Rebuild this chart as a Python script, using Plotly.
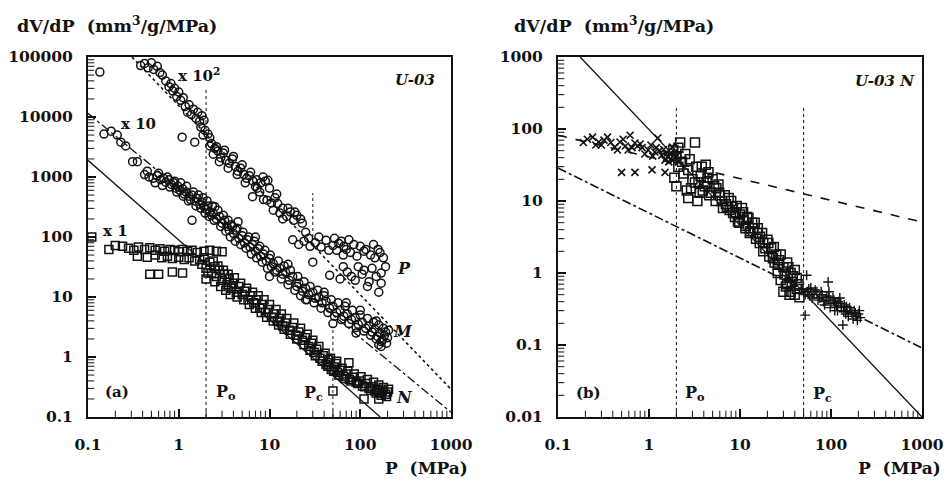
import plotly.graph_objects as go

# ---------------- Panel (a): U-03 ----------------
# P series (x 10^2), open circles
a_P_p = [0.135, 0.38, 0.42, 0.46, 0.50, 0.53, 0.58, 0.62, 0.66, 0.72, 0.78, 0.82, 0.86, 0.90, 0.95, 1.0, 1.05, 1.12,
         1.18, 1.25, 1.30, 1.38, 1.45, 1.55, 1.62, 1.70, 1.80, 1.90, 1.75, 1.95, 2.1, 2.2, 1.85, 1.09, 1.50,
         2.3, 2.5, 2.4, 2.7, 2.9, 3.1, 3.3, 3.6, 3.9, 4.2, 4.5, 4.8, 5.2, 5.6, 6.0, 6.6, 7.2, 8.0, 9.0, 9.6,
         6.5, 7.3, 7.8, 8.6, 9.4, 10.5, 11, 12.3, 13, 14, 15.5, 17, 18.5, 20, 22, 23,
         18, 21, 24, 28, 32, 37, 42, 50, 58, 66, 75, 30,
         55, 65, 78, 92, 110, 130, 157, 145, 46, 60, 72, 88, 105, 125, 150, 170, 120, 160,
         2.2, 2.6, 2.8, 3.2, 3.5, 4.0, 4.4, 5.0, 5.4, 6.2, 7.0, 8.5, 10, 11.5, 12, 14, 16, 19, 25, 27,
         35, 45, 52, 62, 70, 85, 100, 115, 140, 165, 180, 190, 95, 110, 135, 80, 65, 170]
a_P_v = [56000, 72000, 78000, 66000, 80000, 62000, 70000, 55000, 50000, 40000, 32000, 36000, 27000, 30000, 22000, 26000, 19000, 21000,
         15000, 12000, 16000, 11000, 13500, 9500, 12000, 8500, 10500, 8800, 6800, 6000, 5200, 4500, 5000, 4600, 3800,
         3600, 3000, 2400, 2700, 2100, 2500, 1900, 1700, 2000, 1500, 1250, 1400, 1100, 950, 1050, 850, 900, 800, 850, 880,
         470, 650, 560, 420, 410, 370, 280, 360, 250, 300, 220, 260, 190, 230, 200, 170,
         90, 75, 85, 70, 80, 68, 88, 72, 78, 70, 90, 38,
         60, 50, 55, 48, 58, 50, 62, 45, 23, 20, 26, 19, 24, 18, 22, 17, 15, 12,
         3300, 3200, 1800, 2800, 1400, 2200, 1100, 1600, 800, 1200, 700, 1000, 650, 450, 520, 200, 300, 260, 120, 95,
         100, 60, 95, 85, 62, 75, 70, 62, 75, 55, 45, 32, 32, 28, 30, 22, 32, 25]

# M series (x 10), open circles
a_M_p = [0.15, 0.18, 0.21, 0.23, 0.26, 0.31, 0.35, 0.42, 0.47, 0.52, 0.58, 0.63, 0.68, 0.72, 0.78, 0.83, 0.88, 0.93, 0.98,
         1.03, 1.1, 1.15, 1.2, 1.3, 1.35, 1.4, 1.5, 1.6, 1.7, 1.8, 1.9, 2.0, 2.1, 2.2, 2.3, 1.4,
         2.4, 2.6, 2.8, 3.0, 3.2, 3.4, 3.6, 3.8, 4.0, 4.3, 4.6, 5.0, 5.3, 5.7, 6.1, 6.5, 7.0, 7.5, 8.0, 8.6, 9.2, 10,
         10.5, 11, 12, 13, 14, 15, 16.5, 18, 20, 21, 23, 25, 27, 30, 32, 35, 38, 42, 46, 50, 55, 60, 66, 72, 80, 88,
         95, 105, 115, 125, 135, 145, 155, 165, 175, 185, 195,
         2.5, 4.5, 7, 10, 16, 25, 40, 50, 70, 100, 150, 170, 90,
         0.45, 0.55, 0.6, 0.66, 0.75, 0.8, 0.9, 0.95, 1.05, 1.12, 1.22, 1.28, 1.45, 1.55, 1.65, 1.75, 1.85, 1.95,
         2.05, 2.15, 2.35, 2.45, 2.7, 2.9, 3.1, 3.3, 3.5, 3.7, 3.9, 4.2, 4.4, 4.8, 5.1, 5.5, 5.9, 6.3, 6.8, 7.2,
         7.8, 8.3, 8.9, 9.5, 10.2, 11.5, 12.5, 13.5, 14.5, 16, 17, 19, 20.5, 22, 24, 26, 28, 31, 34, 37, 40, 44,
         48, 52, 57, 62, 68, 75, 82, 90, 100, 110, 120, 130, 140, 150, 160, 170, 180, 190, 200, 205, 160]
a_M_v = [5200, 5800, 5000, 3800, 3300, 1800, 1800, 1100, 1000, 950, 1050, 900, 950, 820, 900, 750, 800, 650, 700,
         600, 640, 520, 560, 480, 420, 500, 400, 440, 350, 380, 320, 290, 330, 260, 230, 190,
         250, 200, 220, 170, 190, 150, 130, 160, 115, 130, 95, 105, 80, 90, 68, 75, 58, 64, 48, 52, 40, 44,
         32, 36, 28, 30, 24, 26, 19, 22, 15, 17, 12.5, 14, 11, 12, 9.5, 10, 8, 8.5, 6.5, 7, 5.5, 6, 4.8, 5.2, 4.2, 4.5,
         3.5, 3.8, 3.0, 3.3, 2.6, 2.9, 2.2, 2.5, 1.9, 2.3, 1.7,
         320, 180, 100, 22, 35, 9, 12, 3.6, 8, 6, 4, 1.5, 2.5,
         1250, 800, 1150, 720, 1000, 680, 850, 560, 800, 480, 700, 400, 560, 330, 500, 300, 450, 250,
         400, 220, 330, 190, 280, 150, 230, 125, 190, 100, 150, 85, 140, 75, 120, 65, 100, 52, 85, 45,
         70, 38, 60, 30, 50, 26, 40, 20, 33, 16, 28, 13, 22, 10.5, 18, 9, 15, 8, 13, 6.5, 10.5, 5.5,
         9, 4.8, 8, 4.2, 7, 3.6, 6, 3.1, 5, 2.7, 4.4, 2.3, 3.8, 2.0, 3.4, 1.8, 3.0, 2.6, 2.1, 2.8, 1.6]

# N series (x 1), open squares
a_N_p = [0.11, 0.17, 0.2, 0.24, 0.28, 0.32, 0.36, 0.42, 0.48, 0.55, 0.62, 0.7, 0.8, 0.9, 1.0, 1.1, 1.25, 1.4, 1.6, 1.9, 2.2, 2.6, 3.0,
         0.35, 0.45, 0.55, 0.65, 0.75, 0.85, 1.0, 1.15, 1.3, 1.5, 1.7,
         0.48, 0.6, 0.85, 1.1,
         1.8, 2.0, 2.0, 2.2, 2.3, 2.5, 2.6, 2.8, 3.0, 3.2, 3.4, 3.6, 3.8, 4.0, 4.3, 4.6, 5.0, 5.4, 5.8, 6.2, 6.7, 7.2,
         7.8, 8.4, 9.0, 9.7, 10.5, 11.3, 12.2, 13, 14, 15, 16.5, 18, 19.5, 21, 23, 25, 27, 29, 31, 33, 36, 39, 42, 45,
         48, 52, 56, 60, 65, 70, 76, 82, 90, 98, 106, 115, 125, 135, 145, 155, 165, 175, 190, 200,
         44, 55, 75, 50, 110, 160,
         1.9, 2.1, 2.4, 2.5, 2.7, 2.9, 3.1, 3.3, 3.5, 3.7, 4.1, 4.4, 4.8, 5.2, 5.6, 6.0, 6.5, 7.0, 7.5, 8.1, 8.7, 9.3,
         10, 11, 11.8, 12.6, 13.5, 14.5, 15.5, 17, 18.5, 20, 22, 24, 26, 28, 30, 32, 35, 38, 41, 44, 47, 51, 54, 58,
         63, 68, 73, 79, 86, 94, 102, 112, 120, 130, 140, 150, 160, 170, 180, 195, 205]
a_N_v = [100, 62, 72, 70, 65, 60, 68, 62, 66, 60, 64, 58, 62, 60, 57, 62, 58, 60, 55, 58, 60, 58, 57,
         48, 46, 50, 45, 48, 44, 46, 42, 45, 40, 42,
         24, 24, 26, 25,
         35, 30, 20, 38, 25, 32, 22, 28, 19, 24, 16, 20, 14, 17, 12, 15, 11, 12.5, 9, 10.5, 8, 9,
         6.5, 7.5, 5.5, 6.2, 4.6, 5.2, 4.0, 4.4, 3.3, 3.7, 2.8, 3.1, 2.3, 2.6, 1.9, 2.1, 1.5, 1.7, 1.2, 1.35, 0.95, 1.05, 0.75, 0.8,
         0.62, 0.68, 0.55, 0.6, 0.48, 0.52, 0.42, 0.46, 0.38, 0.4, 0.33, 0.36, 0.3, 0.32, 0.27, 0.29, 0.25, 0.27, 0.24, 0.26,
         0.9, 0.85, 0.8, 0.27, 0.2, 0.2,
         45, 25, 40, 18, 33, 15, 28, 13, 24, 11, 21, 10, 17, 9, 14, 7.5, 12, 6.5, 10.5, 5.5, 9, 4.6,
         7.5, 4, 6.2, 3.4, 5.2, 2.9, 4.4, 2.4, 3.7, 2, 3.0, 1.6, 2.4, 1.3, 1.9, 1.05, 1.5, 0.85, 1.15, 0.7, 0.95, 0.58, 0.78, 0.5,
         0.65, 0.44, 0.58, 0.4, 0.52, 0.36, 0.47, 0.32, 0.42, 0.28, 0.38, 0.25, 0.34, 0.23, 0.31, 0.22, 0.29]

# reference lines of panel (a): endpoints (P, dV/dP)
a_lineP_x = [0.305, 1000]
a_lineP_y = [100000, 0.29]
a_lineM_x = [0.1, 1000]
a_lineM_y = [11500, 0.12]
a_lineN_x = [0.1, 166]
a_lineN_y = [1900, 0.1]
a_Po = 2.0
a_Po_y = [0.1, 30000]
a_Pc_upper = 30.0
a_Pc_upper_y = [100, 540]
a_Pc_lower = 50.0
a_Pc_lower_y = [0.1, 3.2]

# ---------------- Panel (b): U-03 N ----------------
b_X_p = [0.19, 0.24, 0.28, 0.35, 0.42, 0.45, 0.48, 0.59, 0.62, 0.70, 0.84, 0.98, 1.16, 1.25, 1.38, 1.5, 1.6, 1.8, 1.8,
         0.5, 0.7, 1.08, 1.5, 0.3, 0.55, 0.75, 0.9, 1.05, 1.3, 1.45, 1.7, 1.95, 2.1,
         0.21, 0.26, 0.32, 0.38, 0.52, 0.65, 0.8, 1.1, 1.2, 1.55, 1.65, 1.9, 2.0]
b_X_v = [65, 77, 66, 77, 56, 51, 66, 51, 82, 64, 55, 51, 48, 75, 43, 37, 41, 56, 37,
         25, 25, 27, 25, 60, 58, 58, 45, 60, 50, 52, 45, 40, 35,
         72, 60, 70, 65, 72, 55, 62, 42, 55, 45, 35, 48, 42]

b_S_p = [2.2, 3.2, 1.85, 2.0, 2.3, 2.1, 1.9, 2.0, 2.7, 3.0, 3.2, 2.5, 3.8, 4.2, 4.5, 2.7, 3.4, 4.1, 4.8, 5.5, 6.3, 5.0, 6.0,
         7.0, 7.5, 8.2, 9.0, 10, 11, 12, 13.6, 10.5, 9.5, 12.8, 14, 15.7, 16.6, 18, 20, 22, 25, 21, 24, 27, 30, 33, 36, 40,
         42, 28, 32, 36, 40, 45, 30, 26, 18, 15, 7.2, 8.4, 11.5, 2.6, 3.6, 4.4, 5.8,
         2.1, 2.4, 2.8, 2.9, 3.3, 3.5, 3.7, 3.9, 4.3, 4.6, 5.2, 5.4, 5.9, 6.5, 6.8, 7.7, 8.0, 8.8, 9.2, 9.8, 10.8,
         11.5, 12.4, 13, 14.5, 15.5, 16.5, 17.5, 19, 20.5, 23, 23.5, 26, 28, 31, 34, 37, 38, 42, 44, 33, 35]
b_S_v = [65, 65, 51, 42, 35, 30, 21, 16, 27, 20, 18, 45, 30, 32, 25, 11, 10, 16, 13, 15, 10, 20, 12,
         9, 11, 8.3, 7, 6.5, 5.5, 6.0, 5.0, 8, 5.2, 3.6, 4.2, 4.2, 3.2, 2.6, 2.9, 2.2, 1.8, 1.7, 1.4, 1.5, 1.2, 1.4, 1.0, 1.1,
         0.85, 0.8, 0.65, 0.55, 0.5, 0.46, 0.55, 1.0, 2.0, 3.0, 8.3, 6.8, 4.5, 14, 13, 21, 17,
         55, 24, 38, 15, 30, 18, 22, 14, 18, 12, 16, 10, 13, 8, 12, 7.5, 10, 6, 8.5, 5, 7,
         4.2, 5.8, 3.8, 5, 3.6, 2.6, 3.6, 2.2, 2.6, 1.6, 2.3, 1.3, 1.8, 0.95, 1.2, 0.75, 0.9, 0.6, 0.7, 0.7, 0.5]

b_C_p = [54, 93, 52, 135, 48, 55, 60, 65, 70, 75, 80, 88, 95, 100, 108, 115, 120, 130, 140, 150, 160, 170, 180, 190,
         200, 210, 62, 85, 110, 145, 175, 125, 95,
         52, 57, 58, 67, 72, 78, 83, 90, 98, 105, 112, 118, 128, 138, 148, 155, 165, 185, 195, 205]
b_C_v = [0.93, 0.75, 0.26, 0.19, 0.6, 0.55, 0.62, 0.5, 0.55, 0.45, 0.5, 0.42, 0.46, 0.38, 0.42, 0.35, 0.4, 0.33, 0.36,
         0.3, 0.33, 0.28, 0.3, 0.25, 0.27, 0.24, 0.45, 0.36, 0.3, 0.27, 0.23, 0.45, 0.55,
         0.5, 0.6, 0.48, 0.58, 0.42, 0.55, 0.4, 0.48, 0.33, 0.45, 0.38, 0.3, 0.38, 0.29, 0.34, 0.25, 0.3, 0.28, 0.22, 0.3]

b_lineS_x = [0.175, 1000]
b_lineS_y = [1000, 0.01]
b_lineD_x = [0.1, 1000]
b_lineD_y = [82, 5.1]
b_lineDD_x = [0.1, 1000]
b_lineDD_y = [28.7, 0.091]
b_Po = 2.0
b_Pc = 50.0
b_vline_y = [0.01, 200]

# axis ranges (decades)
x_range = [-1, 3]
ya_range = [-1, 5]
yb_range = [-2, 3]

INK = "#111111"
FONT = "DejaVu Serif"
NB = "\u00a0"

fig = go.Figure()

def mk(sym, size=8, width=1.5):
    return dict(symbol=sym, size=size, color=INK, line=dict(color=INK, width=width))

def line(x, y, dash, xa, ya, width=1.3):
    fig.add_trace(go.Scatter(x=x, y=y, mode="lines", line=dict(color=INK, width=width, dash=dash),
                             xaxis=xa, yaxis=ya, hoverinfo="skip"))

def minor_ticks(xa, ya, xr, yr):
    # minor log ticks (2..9 in every decade) along the bottom and left frame edges, clipped to inside
    xs = [k * 10 ** d for d in range(xr[0], xr[1]) for k in range(2, 10)]
    ys = [k * 10 ** d for d in range(yr[0], yr[1]) for k in range(2, 10)]
    fig.add_trace(go.Scatter(x=xs, y=[10 ** yr[0]] * len(xs), mode="markers", xaxis=xa, yaxis=ya, hoverinfo="skip",
                             cliponaxis=True,
                             marker=dict(symbol="line-ns-open", size=9, color=INK, line=dict(color=INK, width=1))))
    fig.add_trace(go.Scatter(x=[10 ** xr[0]] * len(ys), y=ys, mode="markers", xaxis=xa, yaxis=ya, hoverinfo="skip",
                             cliponaxis=True,
                             marker=dict(symbol="line-ew-open", size=9, color=INK, line=dict(color=INK, width=1))))

# panel (a)
minor_ticks("x", "y", x_range, ya_range)
line(a_lineP_x, a_lineP_y, "dot", "x", "y", 1.6)
line(a_lineM_x, a_lineM_y, "dashdot", "x", "y")
line(a_lineN_x, a_lineN_y, "solid", "x", "y")
line([a_Po, a_Po], a_Po_y, "dot", "x", "y", 1.0)
line([a_Pc_upper, a_Pc_upper], a_Pc_upper_y, "dot", "x", "y", 1.0)
line([a_Pc_lower, a_Pc_lower], a_Pc_lower_y, "dot", "x", "y", 1.0)
fig.add_trace(go.Scatter(x=a_P_p, y=a_P_v, mode="markers", marker=mk("circle-open"), xaxis="x", yaxis="y"))
fig.add_trace(go.Scatter(x=a_M_p, y=a_M_v, mode="markers", marker=mk("circle-open"), xaxis="x", yaxis="y"))
fig.add_trace(go.Scatter(x=a_N_p, y=a_N_v, mode="markers", marker=mk("square-open", 8), xaxis="x", yaxis="y"))

# panel (b)
minor_ticks("x2", "y2", x_range, yb_range)
line(b_lineS_x, b_lineS_y, "solid", "x2", "y2")
line(b_lineD_x, b_lineD_y, "dash", "x2", "y2", 1.6)
line(b_lineDD_x, b_lineDD_y, "dashdot", "x2", "y2", 1.6)
line([b_Po, b_Po], b_vline_y, "dot", "x2", "y2", 1.0)
line([b_Pc, b_Pc], b_vline_y, "dot", "x2", "y2", 1.0)
fig.add_trace(go.Scatter(x=b_X_p, y=b_X_v, mode="markers", marker=mk("x-thin-open", 7, 1.6), xaxis="x2", yaxis="y2"))
fig.add_trace(go.Scatter(x=b_S_p, y=b_S_v, mode="markers", marker=mk("square-open", 9), xaxis="x2", yaxis="y2"))
fig.add_trace(go.Scatter(x=b_C_p, y=b_C_v, mode="markers", marker=mk("cross-thin-open", 7, 1.4), xaxis="x2", yaxis="y2"))

tickfont = dict(family=FONT, size=15.5, color=INK, weight="bold")

def common():
    return dict(type="log", tickmode="linear", tick0=0, dtick=1, exponentformat="none",
                ticks="inside", ticklen=8, tickwidth=1.5, tickcolor=INK, showline=True, linecolor=INK, linewidth=2,
                mirror=True, showgrid=False, zeroline=False, tickfont=tickfont, automargin=False)

def xax(domain, anchor):
    d = common()
    d.update(range=x_range, domain=domain, anchor=anchor, ticklabelstandoff=12)
    return d

def yax(domain, anchor, rng):
    d = common()
    d.update(range=rng, domain=domain, anchor=anchor, ticklabelstandoff=10)
    return d

ydom = [1 - 417 / 481, 1 - 57 / 481]
fig.update_layout(
    width=945, height=481, margin=dict(l=0, r=0, t=0, b=0, autoexpand=False),
    paper_bgcolor="white", plot_bgcolor="white", showlegend=False, separators=".",
    xaxis=xax([88 / 945, 451 / 945], "y"),
    yaxis=yax(ydom, "x", ya_range),
    xaxis2=xax([558 / 945, 922 / 945], "y2"),
    yaxis2=yax(ydom, "x2", yb_range),
)

def px(xp, yp, text, size=14, italic=False, anchor="center"):
    fig.add_annotation(x=xp / 945, y=1 - yp / 481, xref="paper", yref="paper", text=text, showarrow=False,
                       xanchor=anchor, yanchor="middle",
                       font=dict(family=FONT, size=size, color=INK, weight="bold",
                                 style="italic" if italic else "normal"))

# titles
title = "dV/dP" + NB * 2 + "(mm<sup>3</sup>/g/MPa)"
px(15, 24, title, 17.5, anchor="left")
px(512, 25, title, 17.5, anchor="left")
px(470, 468, "P" + NB * 2 + "(MPa)", 17, anchor="right")
px(943, 468, "P" + NB * 2 + "(MPa)", 17, anchor="right")

# panel (a) labels
px(437, 80, "U-03", 15, italic=True, anchor="right")
px(199, 75, "x 10<sup>2</sup>", 15)
px(138, 124, "x 10", 15)
px(115, 231, "x 1", 15)
px(404, 268, "P", 16, italic=True)
px(403, 331, "M", 16, italic=True)
px(404, 397, "N", 16, italic=True)
px(117, 392, "(a)", 15)
px(226, 392, "P<sub>o</sub>", 16)
px(313, 393, "P<sub>c</sub>", 16)

# panel (b) labels
px(917, 81, "U-03 N", 15, italic=True, anchor="right")
px(588, 393, "(b)", 15)
px(695, 393, "P<sub>o</sub>", 16)
px(822, 394, "P<sub>c</sub>", 16)

fig.write_html("out.html", config={"displayModeBar": False},
               post_script="document.body.style.margin='0px';document.body.style.overflow='hidden';")
